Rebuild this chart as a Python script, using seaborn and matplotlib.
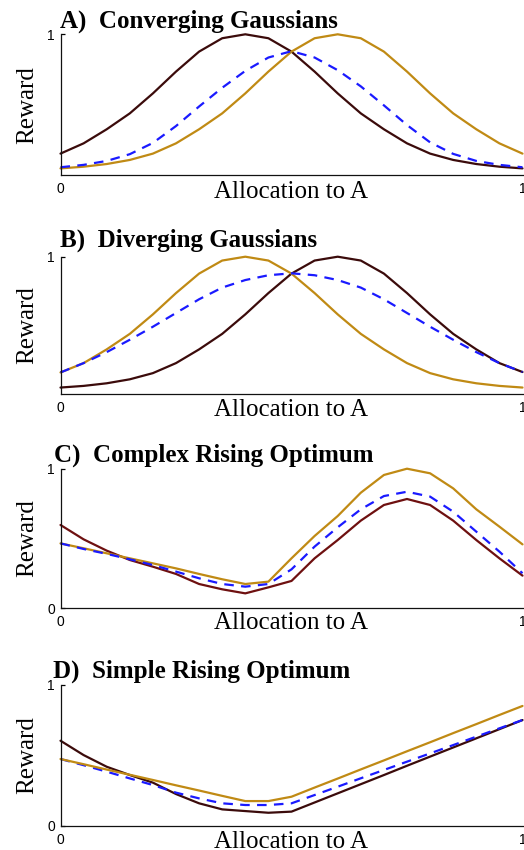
import matplotlib
matplotlib.use("Agg")
import matplotlib.pyplot as plt
import seaborn as sns

# ---------------- data ----------------
alloc = [0.00, 0.05, 0.10, 0.15, 0.20, 0.25, 0.30, 0.35, 0.40, 0.45, 0.50,
         0.55, 0.60, 0.65, 0.70, 0.75, 0.80, 0.85, 0.90, 0.95, 1.00]

titles = ["A)  Converging Gaussians", "B)  Diverging Gaussians",
          "C)  Complex Rising Optimum", "D)  Simple Rising Optimum"]

# Panel A
a_dark = [0.152, 0.225, 0.325, 0.438, 0.580, 0.735, 0.877, 0.972, 1.000, 0.972, 0.877,
          0.735, 0.580, 0.438, 0.325, 0.225, 0.152, 0.107, 0.078, 0.059, 0.047]
a_gold = [0.047, 0.059, 0.078, 0.107, 0.152, 0.225, 0.325, 0.438, 0.580, 0.735, 0.877,
          0.972, 1.000, 0.972, 0.877, 0.735, 0.580, 0.438, 0.325, 0.225, 0.152]
a_blue = [0.055, 0.072, 0.100, 0.148, 0.228, 0.348, 0.487, 0.620, 0.740, 0.835, 0.880,
          0.835, 0.745, 0.630, 0.495, 0.355, 0.232, 0.150, 0.100, 0.072, 0.055]

# Panel B
b_dark = [0.047, 0.059, 0.078, 0.107, 0.152, 0.225, 0.325, 0.438, 0.580, 0.735, 0.877,
          0.972, 1.000, 0.972, 0.877, 0.735, 0.580, 0.438, 0.325, 0.225, 0.160]
b_gold = [0.157, 0.225, 0.325, 0.438, 0.580, 0.735, 0.877, 0.972, 1.000, 0.972, 0.877,
          0.735, 0.580, 0.438, 0.325, 0.225, 0.152, 0.107, 0.078, 0.059, 0.047]
b_blue = [0.157, 0.225, 0.305, 0.395, 0.490, 0.590, 0.690, 0.775, 0.830, 0.865, 0.879,
          0.865, 0.830, 0.775, 0.690, 0.590, 0.490, 0.395, 0.305, 0.225, 0.160]

# Panel C
c_dark = [0.597, 0.494, 0.413, 0.346, 0.298, 0.246, 0.174, 0.136, 0.107, 0.150, 0.196,
          0.358, 0.489, 0.628, 0.740, 0.783, 0.740, 0.628, 0.489, 0.358, 0.234]
c_gold = [0.465, 0.430, 0.394, 0.358, 0.322, 0.286, 0.246, 0.208, 0.174, 0.191, 0.358,
          0.518, 0.661, 0.828, 0.955, 1.000, 0.967, 0.859, 0.709, 0.585, 0.458]
c_blue = [0.465, 0.425, 0.390, 0.351, 0.310, 0.263, 0.215, 0.174, 0.155, 0.174, 0.279,
          0.442, 0.580, 0.709, 0.804, 0.835, 0.800, 0.692, 0.549, 0.406, 0.251]

# Panel D
d_dark = [0.604, 0.502, 0.419, 0.360, 0.306, 0.225, 0.159, 0.116, 0.104, 0.092, 0.100,
          0.165, 0.230, 0.295, 0.360, 0.426, 0.491, 0.556, 0.621, 0.686, 0.751]
d_gold = [0.474, 0.437, 0.399, 0.362, 0.325, 0.287, 0.250, 0.212, 0.175, 0.175, 0.206,
          0.271, 0.335, 0.400, 0.464, 0.529, 0.593, 0.658, 0.722, 0.787, 0.851]
d_blue = [0.474, 0.430, 0.384, 0.336, 0.289, 0.235, 0.194, 0.159, 0.147, 0.147, 0.159,
          0.218, 0.277, 0.337, 0.396, 0.455, 0.514, 0.573, 0.633, 0.692, 0.751]

panels = [
    (a_dark, a_gold, a_blue, "#3b0b0b", [1], ["1"], "blue"),
    (b_dark, b_gold, b_blue, "#3b0b0b", [1], ["1"], "blue"),
    (c_dark, c_gold, c_blue, "#6e1010", [0, 1], ["0", "1"], "blue"),
    (d_dark, d_gold, d_blue, "#3b0b0b", [0, 1], ["0", "1"], "gold"),
]

GOLD = "#c08a14"
BLUE = "#1a1aff"

# ---------------- figure ----------------
sns.set_style("ticks")
plt.rcParams["text.color"] = "black"
plt.rcParams["axes.labelcolor"] = "black"
plt.rcParams["xtick.color"] = "black"
plt.rcParams["ytick.color"] = "black"

W, H = 524, 850
fig = plt.figure(figsize=(W / 100, H / 100), dpi=100)

# axes boxes in pixels: (left, top, right, bottom)
boxes = [(60.5, 34.3, 522.5, 175.0),
         (60.5, 256.7, 522.5, 394.0),
         (60.5, 468.7, 522.5, 608.3),
         (60.5, 685.0, 522.5, 825.7)]
title_dx = [0.0, -1.0, -7.0, -7.5]       # px offset of title from axes left
title_dy = [13.0, 16.0, 13.0, 14.0]      # px of title centre above axes top
xlab_gap = [6.0, 5.5, 3.5, 5.5]          # px from axis to top of xlabel

serif = "Liberation Serif"
sans = "Liberation Sans"
DASH = (0, (4.3, 3.3))

for i, (dark, gold, blue, dcol, yt, ytl, top) in enumerate(panels):
    l, t, r, b = boxes[i]
    ax = fig.add_axes([l / W, 1 - b / H, (r - l) / W, (b - t) / H])
    hpx = b - t
    wpx = r - l

    sns.lineplot(x=alloc, y=dark, ax=ax, color=dcol, lw=1.6, clip_on=False)
    if top == "blue":
        sns.lineplot(x=alloc, y=gold, ax=ax, color=GOLD, lw=1.6, clip_on=False)
        sns.lineplot(x=alloc, y=blue, ax=ax, color=BLUE, lw=1.6,
                     linestyle=DASH, clip_on=False)
    else:
        sns.lineplot(x=alloc, y=blue, ax=ax, color=BLUE, lw=1.6,
                     linestyle=DASH, clip_on=False)
        sns.lineplot(x=alloc, y=gold, ax=ax, color=GOLD, lw=1.6, clip_on=False)

    ax.set_xlim(0, 1)
    ax.set_ylim(0, 1)
    sns.despine(ax=ax)
    for s in ("left", "bottom"):
        ax.spines[s].set_linewidth(0.9)
        ax.spines[s].set_color("#111111")

    ax.set_xticks([0, 1])
    ax.set_xticklabels(["0", "1"], fontfamily=sans, fontsize=10)
    ax.set_yticks(yt)
    ax.set_yticklabels(ytl, fontfamily=sans, fontsize=10)
    ax.tick_params(axis="y", direction="in", length=3, width=0.9, pad=4)
    ax.tick_params(axis="x", direction="in", length=0, pad=5)

    ax.set_xlabel("Allocation to A", fontfamily=serif, fontsize=18)
    ax.xaxis.set_label_coords(0.5, -xlab_gap[i] / hpx)
    ax.xaxis.label.set_va("top")

    ax.set_ylabel("Reward", fontfamily=serif, fontsize=18)
    ax.yaxis.set_label_coords(-22.0 / wpx, 0.5)

    ax.annotate(titles[i], xy=(0, 1), xycoords="axes fraction",
                xytext=(title_dx[i] * 0.72, title_dy[i] * 0.72),
                textcoords="offset points", ha="left", va="center",
                fontfamily=serif, fontweight="bold", fontsize=18,
                annotation_clip=False)

fig.savefig("out.png", dpi=100)
